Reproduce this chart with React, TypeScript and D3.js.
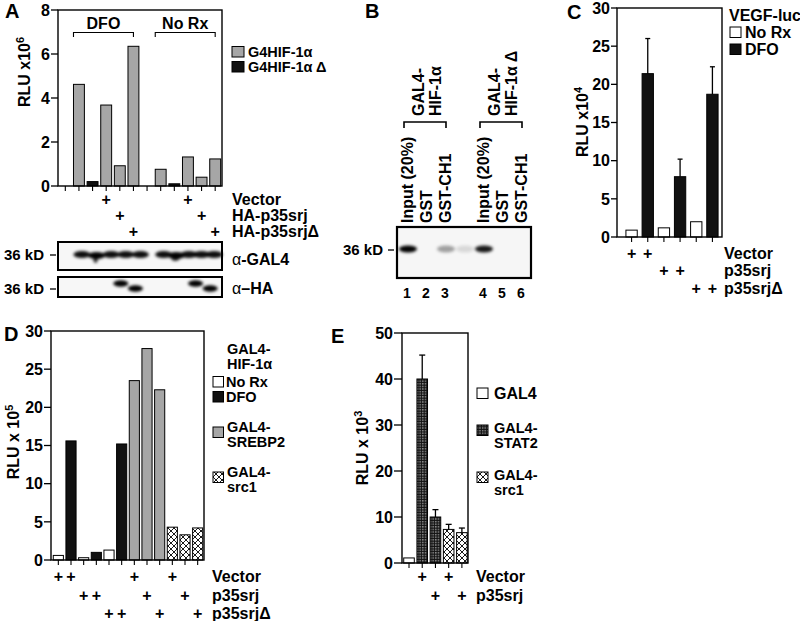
import React from 'react';
import * as d3 from 'd3';

const FONT = '"Liberation Sans", Arial, Helvetica, sans-serif';
const GREY = '#a6a6a6';
const BLACK = '#111111';

// ---------- Panel A ----------
const aLanes = ['1', '2', '3', '4', '5', '6', '7', '8', '9', '10', '11', '12'];
const aValues = [0, 4.62, 0.2, 3.68, 0.92, 6.35, 0, 0.76, 0.1, 1.32, 0.4, 1.23];
const aSeries = ['none', 'wt', 'del', 'wt', 'wt', 'wt', 'none', 'wt', 'del', 'wt', 'wt', 'wt'];
const aTicks = [0, 2, 4, 6, 8];
const aGroups = [
  { label: 'DFO', from: '2', to: '6' },
  { label: 'No Rx', from: '8', to: '12' },
];
const aLegend = [
  { label: 'G4HIF-1α', series: 'wt' },
  { label: 'G4HIF-1α Δ', series: 'del' },
];
const aRowLabels = ['Vector', 'HA-p35srj', 'HA-p35srjΔ'];
const aRowLanes = [['4', '10'], ['5', '11'], ['6', '12']];
// western blot bands: lane, intensity, dx (shift), dy
const aGal4Bands = [
  { lane: '2', k: 0.95, dx: 3, dy: 0 },
  { lane: '3', k: 1.0, dx: 4, dy: 1 },
  { lane: '4', k: 0.95, dx: 5, dy: 0 },
  { lane: '5', k: 0.95, dx: 6, dy: 0 },
  { lane: '6', k: 0.95, dx: 7, dy: 0 },
  { lane: '8', k: 0.95, dx: 3, dy: 0 },
  { lane: '9', k: 1.0, dx: 2, dy: 1 },
  { lane: '10', k: 0.95, dx: 1, dy: 0 },
  { lane: '11', k: 0.95, dx: 0, dy: 0 },
  { lane: '12', k: 0.95, dx: -1, dy: 0 },
];
const aHaBands = [
  { lane: '5', k: 1.0, dx: 1, dy: -3 },
  { lane: '6', k: 1.0, dx: 2, dy: 2 },
  { lane: '11', k: 1.0, dx: -6, dy: -3 },
  { lane: '12', k: 1.0, dx: -5, dy: 2 },
];

// ---------- Panel B ----------
const bLanes = ['1', '2', '3', 'gap', '4', '5', '6'];
const bLaneLabels = ['Input (20%)', 'GST', 'GST-CH1', '', 'Input (20%)', 'GST', 'GST-CH1'];
const bGroups = [
  { lines: ['GAL4-', 'HIF-1α'], from: '1', to: '3' },
  { lines: ['GAL4-', 'HIF-1α Δ'], from: '4', to: '6' },
];
const bBands = [
  { lane: '1', k: 1.0 },
  { lane: '3', k: 0.35 },
  { lane: 'gap', k: 0.12 },
  { lane: '4', k: 0.9 },
];

// ---------- Panel C ----------
const cLanes = ['1', '2', '3', '4', '5', '6'];
const cValues = [0.9, 21.4, 1.2, 7.9, 2.0, 18.7];
const cErrors = [null, 26.0, null, 10.2, null, 22.3];
const cSeries = ['norx', 'dfo', 'norx', 'dfo', 'norx', 'dfo'];
const cTicks = [0, 5, 10, 15, 20, 25, 30];
const cLegendTitle = 'VEGF-luc';
const cLegend = [
  { label: 'No Rx', series: 'norx' },
  { label: 'DFO', series: 'dfo' },
];
const cRowLabels = ['Vector', 'p35srj', 'p35srjΔ'];
const cRowLanes = [['1', '2'], ['3', '4'], ['5', '6']];

// ---------- Panel D ----------
const dLanes = ['1', '2', '3', '4', '5', '6', '7', '8', '9', '10', '11', '12'];
const dValues = [0.6, 15.6, 0.3, 1.0, 1.3, 15.2, 23.5, 27.7, 22.3, 4.3, 3.3, 4.2];
const dSeries = ['norx', 'dfo', 'norx', 'dfo', 'norx', 'dfo', 'srebp', 'srebp', 'srebp', 'src1', 'src1', 'src1'];
const dTicks = [0, 5, 10, 15, 20, 25, 30];
const dLegend = [
  { lines: ['GAL4-', 'HIF-1α'], series: null },
  { lines: ['No Rx'], series: 'norx' },
  { lines: ['DFO'], series: 'dfo' },
  { lines: ['GAL4-', 'SREBP2'], series: 'srebp' },
  { lines: ['GAL4-', 'src1'], series: 'src1' },
];
const dRowLabels = ['Vector', 'p35srj', 'p35srjΔ'];
const dRowLanes = [['1', '2', '7', '10'], ['3', '4', '8', '11'], ['5', '6', '9', '12']];

// ---------- Panel E ----------
const eLanes = ['1', '2', '3', '4', '5'];
const eValues = [1.1, 40.0, 10.0, 7.3, 6.6];
const eErrors = [null, 45.2, 11.6, 8.4, 7.6];
const eSeries = ['gal4', 'stat2', 'stat2', 'src1', 'src1'];
const eTicks = [0, 10, 20, 30, 40, 50];
const eLegend = [
  { lines: ['GAL4'], series: 'gal4' },
  { lines: ['GAL4-', 'STAT2'], series: 'stat2' },
  { lines: ['GAL4-', 'src1'], series: 'src1' },
];
const eRowLabels = ['Vector', 'p35srj'];
const eRowLanes = [['2', '4'], ['3', '5']];

const fillFor = (s: string | null) => {
  switch (s) {
    case 'wt': return GREY;
    case 'srebp': return GREY;
    case 'del': return BLACK;
    case 'dfo': return BLACK;
    case 'norx': return '#ffffff';
    case 'gal4': return '#ffffff';
    case 'src1': return 'url(#xhatch)';
    case 'stat2': return 'url(#grid)';
    default: return 'none';
  }
};

const T = { fontFamily: FONT, fontWeight: 700 as const };

function YAxis({ y, x0, ticks, tickLen, labelGap }: any) {
  return (
    <g>
      {ticks.map((t: number) => (
        <g key={t}>
          <line x1={x0 - tickLen} x2={x0} y1={y(t)} y2={y(t)} stroke="#000" strokeWidth={1.3} />
          <text x={x0 - tickLen - labelGap} y={y(t)} dy="0.36em" textAnchor="end" fontSize={16} {...T}>{t}</text>
        </g>
      ))}
    </g>
  );
}

function Box({ x0, x1, y0, y1 }: any) {
  return <rect x={x0} y={y0} width={x1 - x0} height={y1 - y0} fill="none" stroke="#000" strokeWidth={1.4} />;
}

function BottomTicks({ x, lanes, y0 }: any) {
  return (
    <g>
      {lanes.map((l: string) => (
        <line key={l} x1={x(l)! + x.bandwidth() / 2} x2={x(l)! + x.bandwidth() / 2} y1={y0} y2={y0 + 5} stroke="#000" strokeWidth={1.1} />
      ))}
    </g>
  );
}

function Bars({ x, y, lanes, values, series }: any) {
  return (
    <g>
      {lanes.map((l: string, i: number) =>
        series[i] === 'none' ? null : (
          <rect key={l} x={x(l)} y={y(values[i])} width={x.bandwidth()} height={y(0) - y(values[i])}
            fill={fillFor(series[i])} stroke="#000" strokeWidth={1} />
        )
      )}
    </g>
  );
}

function ErrorBars({ x, y, lanes, values, errors, cap }: any) {
  return (
    <g>
      {lanes.map((l: string, i: number) => {
        if (errors[i] == null) return null;
        const cx = x(l)! + x.bandwidth() / 2;
        return (
          <g key={l}>
            <line x1={cx} x2={cx} y1={y(values[i])} y2={y(errors[i])} stroke="#000" strokeWidth={1.3} />
            <line x1={cx - cap / 2} x2={cx + cap / 2} y1={y(errors[i])} y2={y(errors[i])} stroke="#000" strokeWidth={1.3} />
          </g>
        );
      })}
    </g>
  );
}

function PlusRows({ x, rows, labels, baselines, labelX }: any) {
  return (
    <g>
      {rows.map((lanes: string[], r: number) => (
        <g key={r}>
          {lanes.map((l) => (
            <text key={l} x={x(l)! + x.bandwidth() / 2} y={baselines[r]} textAnchor="middle" fontSize={16} {...T}>+</text>
          ))}
          <text x={labelX} y={baselines[r]} fontSize={16} {...T}>{labels[r]}</text>
        </g>
      ))}
    </g>
  );
}

function YTitle({ x, y, text, sup }: any) {
  return (
    <text transform={`translate(${x},${y}) rotate(-90)`} textAnchor="middle" fontSize={16} {...T}>
      {text}<tspan dy={-6} fontSize={11}>{sup}</tspan>
    </text>
  );
}

export default function App() {
  // Panel A scales
  const ax = d3.scaleBand().domain(aLanes).range([58.5, 222]).paddingInner(0.2).paddingOuter(0.1);
  const ay = d3.scaleLinear().domain([0, 8]).range([186, 10]);
  const aMid = (l: string) => ax(l)! + ax.bandwidth() / 2;

  // Panel B
  const bx = d3.scalePoint().domain(bLanes).range([407, 521]);

  // Panel C
  const cx = d3.scaleBand().domain(cLanes).range([623.5, 720.5]).paddingInner(0.3).paddingOuter(0.15);
  const cy = d3.scaleLinear().domain([0, 30]).range([237, 8]);

  // Panel D
  const dx = d3.scaleBand().domain(dLanes).range([52, 204]).paddingInner(0.2).paddingOuter(0.1);
  const dy = d3.scaleLinear().domain([0, 30]).range([560, 331]);

  // Panel E
  const ex = d3.scaleBand().domain(eLanes).range([402.4, 468.5]).paddingInner(0.2).paddingOuter(0.1);
  const ey = d3.scaleLinear().domain([0, 50]).range([563, 333]);

  const LG = 14.5; // legend font size for stacked labels

  return (
    <svg width={800} height={621} style={{ position: 'absolute', left: 0, top: 0, background: '#fff' }}>
      <defs>
        <filter id="blur" x="-50%" y="-50%" width="200%" height="200%">
          <feGaussianBlur stdDeviation="1.6" />
        </filter>
        <pattern id="xhatch" patternUnits="userSpaceOnUse" width={6} height={6}>
          <rect width={6} height={6} fill="#fff" />
          <path d="M0,0 L6,6 M6,0 L0,6" stroke="#000" strokeWidth={0.9} />
        </pattern>
        <pattern id="grid" patternUnits="userSpaceOnUse" width={2.6} height={2.6}>
          <rect width={2.6} height={2.6} fill="#111" />
          <rect x={1.1} y={1.1} width={1.1} height={1.1} fill="#eeeeee" />
        </pattern>
      </defs>
      <rect width={800} height={621} fill="#fff" />

      {/* ================= Panel A ================= */}
      <text x={5} y={18} fontSize={20} {...T}>A</text>
      <Bars x={ax} y={ay} lanes={aLanes} values={aValues} series={aSeries} />
      <Box x0={58} x1={222} y0={10} y1={186} />
      <YAxis y={ay} x0={58} ticks={aTicks} tickLen={7} labelGap={1} />
      <BottomTicks x={ax} lanes={aLanes} y0={186} />
      <YTitle x={30} y={72} text="RLU x10" sup="6" />
      {aGroups.map((g) => {
        const x0 = ax(g.from)!;
        const x1 = aMid(g.to);
        return (
          <g key={g.label}>
            <path d={`M${x0},37 V32.5 H${x1} V37`} fill="none" stroke="#000" strokeWidth={1.1} />
            <text x={(x0 + x1) / 2} y={29} textAnchor="middle" fontSize={16} {...T}>{g.label}</text>
          </g>
        );
      })}
      {aLegend.map((l, i) => (
        <g key={l.label}>
          <rect x={232} y={46.5 + i * 15} width={12} height={10.5} fill={fillFor(l.series)} stroke="#000" strokeWidth={1} />
          <text x={248} y={57 + i * 15} fontSize={LG} {...T}>{l.label}</text>
        </g>
      ))}
      <PlusRows x={ax} rows={aRowLanes} labels={aRowLabels} baselines={[205, 220.5, 237]} labelX={232} />
      {/* blots */}
      <g>
        <rect x={58} y={242} width={164} height={28} fill="#f7f7f7" />
        <g filter="url(#blur)">
          {aGal4Bands.map((b, i) => (
            <ellipse key={i} cx={aMid(b.lane) + b.dx} cy={254.5 + b.dy} rx={ax.step() * 0.62} ry={3.6} fill="#000" opacity={b.k} />
          ))}
          <ellipse cx={aMid('3') + 3} cy={259} rx={2.2} ry={4} fill="#000" opacity={0.8} />
          <ellipse cx={aMid('9') + 1} cy={258} rx={4} ry={3} fill="#000" opacity={0.8} />
        </g>
        <rect x={58} y={242} width={164} height={28} fill="none" stroke="#000" strokeWidth={2} />
        <text x={44} y={255} dy="0.36em" textAnchor="end" fontSize={15} {...T}>36 kD</text>
        <line x1={50} x2={56} y1={255} y2={255} stroke="#000" strokeWidth={1.3} />
        <text x={232} y={265} fontSize={16} {...T}><tspan fontWeight={400}>α</tspan>-GAL4</text>

        <rect x={58} y={277} width={164} height={20} fill="#f7f7f7" />
        <g filter="url(#blur)">
          {aHaBands.map((b, i) => (
            <ellipse key={i} cx={aMid(b.lane) + b.dx} cy={286.5 + b.dy} rx={ax.step() * 0.55} ry={3.3} fill="#000" opacity={b.k} />
          ))}
        </g>
        <rect x={58} y={277} width={164} height={20} fill="none" stroke="#000" strokeWidth={2} />
        <text x={44} y={289} dy="0.36em" textAnchor="end" fontSize={15} {...T}>36 kD</text>
        <line x1={50} x2={56} y1={289} y2={289} stroke="#000" strokeWidth={1.3} />
        <text x={232} y={294} fontSize={16} {...T}><tspan fontWeight={400}>α</tspan>–HA</text>
      </g>

      {/* ================= Panel B ================= */}
      <text x={365} y={18} fontSize={20} {...T}>B</text>
      {bGroups.map((g, gi) => {
        const x0 = bx(g.from)! - 3;
        const x1 = bx(g.to)! + 1;
        return (
          <g key={gi}>
            <path d={`M${x0},128 V122 H${x1} V128`} fill="none" stroke="#000" strokeWidth={1.6} />
            {g.lines.map((ln, li) => (
              <text key={li} transform={`translate(${x0 + 20 + li * 16.5},116) rotate(-90)`} fontSize={16} {...T}>{ln}</text>
            ))}
          </g>
        );
      })}
      {bLanes.map((l, i) =>
        bLaneLabels[i] ? (
          <text key={l} transform={`translate(${bx(l)! + 6},223) rotate(-90)`} fontSize={16} {...T}>{bLaneLabels[i]}</text>
        ) : null
      )}
      <rect x={397} y={227} width={134} height={51} fill="#f6f6f6" />
      <g filter="url(#blur)">
        {bBands.map((b, i) => (
          <ellipse key={i} cx={bx(b.lane)! + 1} cy={249} rx={9} ry={3.4} fill="#000" opacity={b.k} />
        ))}
      </g>
      <rect x={397} y={227} width={134} height={51} fill="none" stroke="#000" strokeWidth={2.2} />
      <text x={383} y={250} dy="0.36em" textAnchor="end" fontSize={15} {...T}>36 kD</text>
      <line x1={388} x2={394} y1={250} y2={250} stroke="#000" strokeWidth={1.3} />
      {bLanes.map((l, i) =>
        bLaneLabels[i] ? (
          <text key={l} x={bx(l)!} y={298} textAnchor="middle" fontSize={14} {...T}>{l}</text>
        ) : null
      )}

      {/* ================= Panel C ================= */}
      <text x={567} y={19} fontSize={20} {...T}>C</text>
      <Bars x={cx} y={cy} lanes={cLanes} values={cValues} series={cSeries} />
      <ErrorBars x={cx} y={cy} lanes={cLanes} values={cValues} errors={cErrors} cap={5} />
      <Box x0={617} x1={722} y0={8} y1={237} />
      <YAxis y={cy} x0={617} ticks={cTicks} tickLen={6} labelGap={1} />
      <BottomTicks x={cx} lanes={cLanes} y0={237} />
      <YTitle x={588} y={122} text="RLU x10" sup="4" />
      <text x={729} y={21} fontSize={16} {...T}>{cLegendTitle}</text>
      {cLegend.map((l, i) => (
        <g key={l.label}>
          <rect x={730} y={27 + i * 17} width={11} height={10.5} fill={fillFor(l.series)} stroke="#000" strokeWidth={1} />
          <text x={745} y={37.5 + i * 17} fontSize={16} {...T}>{l.label}</text>
        </g>
      ))}
      <PlusRows x={cx} rows={cRowLanes} labels={cRowLabels} baselines={[258.5, 276, 293.5]} labelX={724} />

      {/* ================= Panel D ================= */}
      <text x={4} y={341} fontSize={20} {...T}>D</text>
      <Bars x={dx} y={dy} lanes={dLanes} values={dValues} series={dSeries} />
      <Box x0={51} x1={204} y0={331} y1={560} />
      <YAxis y={dy} x0={51} ticks={dTicks} tickLen={7} labelGap={1} />
      <BottomTicks x={dx} lanes={dLanes} y0={560} />
      <YTitle x={19} y={442} text="RLU x 10" sup="5" />
      {(() => {
        const tops = [342, 375, 390, 420, 465];
        return dLegend.map((l, i) => (
          <g key={i}>
            {l.series ? (
              <rect x={213} y={l.lines.length > 1 ? tops[i] + 7 : tops[i] + 1.5} width={10.5} height={10.5} fill={fillFor(l.series)} stroke="#000" strokeWidth={1} />
            ) : null}
            {l.lines.map((ln, li) => (
              <text key={li} x={l.series && l.lines.length === 1 ? 226 : 227} y={tops[i] + 12 + li * 14.5} fontSize={LG} {...T}>{ln}</text>
            ))}
          </g>
        ));
      })()}
      <PlusRows x={dx} rows={dRowLanes} labels={dRowLabels} baselines={[582, 600.5, 619]} labelX={212} />

      {/* ================= Panel E ================= */}
      <text x={331} y={343} fontSize={20} {...T}>E</text>
      <Bars x={ex} y={ey} lanes={eLanes} values={eValues} series={eSeries} />
      <ErrorBars x={ex} y={ey} lanes={eLanes} values={eValues} errors={eErrors} cap={6} />
      <Box x0={402} x1={468} y0={333} y1={563} />
      <YAxis y={ey} x0={402} ticks={eTicks} tickLen={8} labelGap={1} />
      <BottomTicks x={ex} lanes={eLanes} y0={563} />
      <YTitle x={368} y={448} text="RLU x 10" sup="3" />
      {(() => {
        const tops = [387, 421, 468];
        return eLegend.map((l, i) => (
          <g key={i}>
            <rect x={477} y={l.lines.length > 1 ? tops[i] + 4 : tops[i] + 1} width={11} height={10.5} fill={fillFor(l.series)} stroke="#000" strokeWidth={1} />
            {l.lines.map((ln, li) => (
              <text key={li} x={494} y={tops[i] + 12 + li * 14.5} fontSize={l.lines.length > 1 ? LG : 16} {...T}>{ln}</text>
            ))}
          </g>
        ));
      })()}
      <PlusRows x={ex} rows={eRowLanes} labels={eRowLabels} baselines={[582, 600.5]} labelX={476} />
    </svg>
  );
}
